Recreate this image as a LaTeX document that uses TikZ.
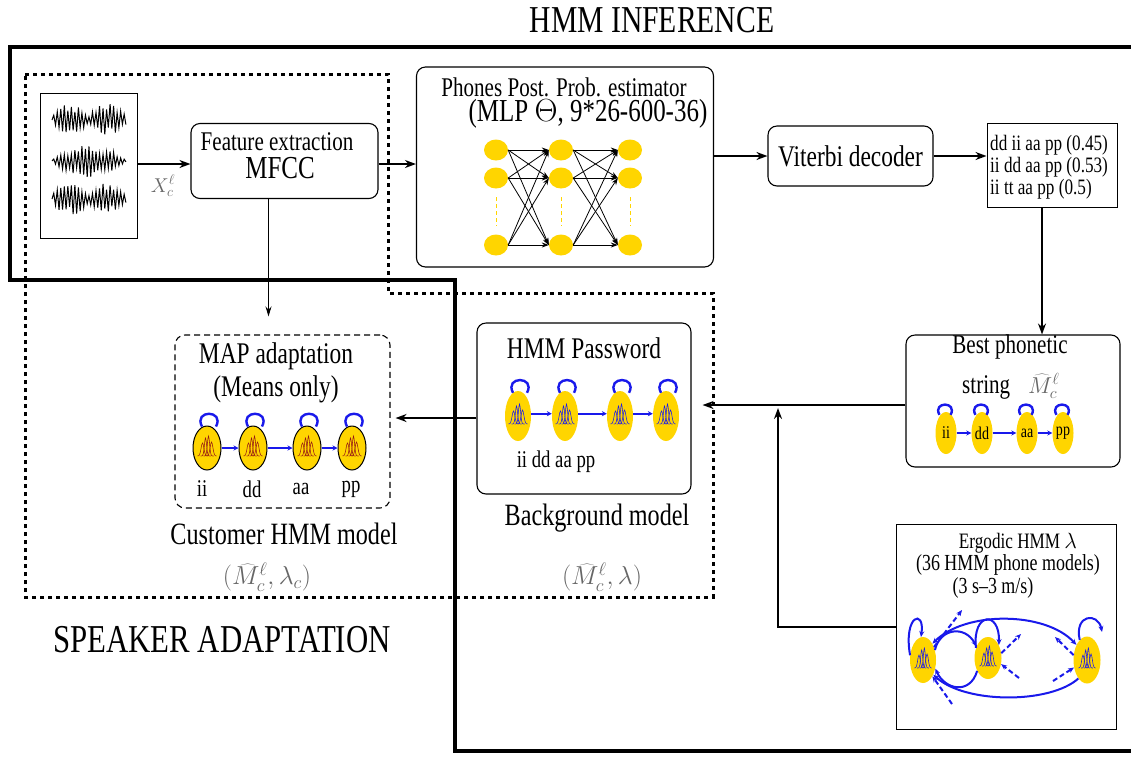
\RequirePackage{fix-cm}
\documentclass[tikz,border=0pt]{standalone}
\usepackage[no-math]{fontspec}
\setmainfont{Liberation Serif}[FakeStretch=0.78]
\usetikzlibrary{arrows.meta,calc,shapes.geometric}

\definecolor{hmmgold}{RGB}{255,213,0}
\definecolor{hmmblue}{RGB}{25,25,235}
\definecolor{peakred}{RGB}{150,25,20}
\definecolor{mathgray}{gray}{0.4}

\begin{document}
\begin{tikzpicture}[x=1pt,y=-1pt,
  txt/.style={inner sep=0pt, font=\fontsize{#1}{#1}\selectfont},
  txt/.default=24,
  rbox/.style={draw, rounded corners=9pt, line width=1.1pt, inner sep=0pt},
  sqbox/.style={draw, line width=1pt, inner sep=0pt},
  thickframe/.style={line width=4pt},
  dotframe/.style={line width=3pt, dash pattern=on 4pt off 4pt},
  flow/.style={line width=2pt, -{Stealth[length=11pt,width=8pt]}},
  thinflow/.style={line width=1pt, -{Stealth[length=10pt,width=6pt]}},
  nnarrow/.style={line width=0.8pt, -{Stealth[length=7pt,width=5pt]}},
  neuron/.style={ellipse, fill=hmmgold, minimum width=24pt, minimum height=21pt, inner sep=0pt},
  ydash/.style={hmmgold, line width=1pt, dash pattern=on 4pt off 3pt},
  state/.style={ellipse, fill=hmmgold, inner sep=0pt},
  chainarr/.style={hmmblue, line width=1.8pt, -{Stealth[length=5pt,width=5pt]}},
  loopline/.style={hmmblue, line width=2.4pt},
  ergarr/.style={hmmblue, line width=2pt, -{Stealth[length=6pt,width=5pt]}},
  ergdash/.style={ergarr, dash pattern=on 5pt off 3pt},
  wave/.style={line width=1pt, line join=miter},
  pics/peaks/.style={code={
    \foreach \m/\h/\s in {-4.5/13/1.4,-1.5/18/1.1,1.5/20/1.1,4.5/14/1.4}
      \draw[line width=0.55pt] plot[smooth,samples=15,domain=\m-5:\m+5]
        (\x,{8-\h*exp(-((\x-(\m))^2)/(2*\s*\s))});
  }},
  pics/selfloop/.style={code={
    \draw[loopline] (-7,0) .. controls (-16,-17) and (16,-17) .. (7,0);
  }}
]
\fill[white] (0,0) rectangle (1131,756);
\useasboundingbox (0,0) rectangle (1131,756);

% ---- headings ----
\node[txt=38] (title) at (652,20) {HMM INFERENCE};
\node[txt=39.5] (sptitle) at (222,640) {SPEAKER ADAPTATION};

% ---- enclosing frames ----
\draw[thickframe] (1140,47) -- (10,47) -- (10,280) -- (455,280) -- (455,751) -- (1140,751);
\draw[dotframe] (25,74) -- (388,74) -- (388,293) -- (713,293) -- (713,597) -- (25,597) -- cycle;

% ---- speech signal ----
\node[sqbox, minimum width=97pt, minimum height=145pt] (wav) at (88.5,165.5) {};
\foreach \yc/\sd/\kind in {120/11/1,161/23/2,199/37/1}{
  \pgfmathsetseed{\sd}
  \draw[wave] (52,\yc) \foreach \i in {1,...,42}{
    -- ({52+\i*1.76},{\yc+pow(-1,\i)*((\kind==1) ? (1.5+15*(0.4+0.6*rnd)*(0.25+0.75*abs(sin(\i*8.6)))) : (1+16*(0.4+0.6*rnd)*sin(\i*4.3)))}) };
}

% ---- feature extraction ----
\node[rbox, minimum width=187pt, minimum height=75pt] (fe) at (284.5,161) {};
\node[txt=27] (fe1) at (277,142) {Feature extraction};
\node[txt=32] (fe2) at (280,168) {MFCC};
\draw[flow] (wav.east |- 0,164) -- (fe.west |- 0,164);
\node[txt=20, text=mathgray] (xlab) at (163,186) {$X_c^\ell$};

% ---- MLP estimator ----
\node[rbox, minimum width=297pt, minimum height=200pt] (ph) at (565,167) {};
\node[txt=27] (ph1) at (564,87) {Phones Post. Prob. estimator};
\node[txt=32] (ph2) at (588,114) {(MLP $\Theta$, 9*26-600-36)};
\foreach \c/\x in {1/496,2/561,3/630}
  \foreach \r/\y in {1/150,2/178,3/245}
    \node[neuron] (n\c\r) at (\x,\y) {};
\foreach \c in {1,2,3}
  \draw[ydash, shorten <=19pt, shorten >=19pt] (n\c2.center) -- (n\c3.center);
\foreach \a in {1,2,3}
  \foreach \b in {1,2,3}{
    \draw[nnarrow] (n1\a.east) -- (n2\b.west);
    \draw[nnarrow] (n2\a.east) -- (n3\b.west);
  }
\draw[flow] (fe.east |- 0,164) -- (ph.west |- 0,164);

% ---- Viterbi decoding ----
\node[rbox, minimum width=165pt, minimum height=60pt, txt=30] (vit) at (850.5,156) {Viterbi decoder};
\draw[flow] (ph.east |- vit) -- (vit.west);
\node[sqbox, minimum width=130pt, minimum height=84pt] (lst) at (1052,165) {};
\node[txt=22, anchor=west] (l1) at (990,145) {dd ii aa pp (0.45)};
\node[txt=22, anchor=west] (l2) at (990,167) {ii dd aa pp (0.53)};
\node[txt=22, anchor=west] (l3) at (990,189) {ii tt aa pp (0.5)};
\draw[flow] (vit.east) -- (vit.east -| lst.west);

% ---- best phonetic string ----
\node[rbox, minimum width=214pt, minimum height=132pt] (best) at (1013,401) {};
\node[txt=27] (b1) at (1010,347) {Best phonetic};
\node[txt=27, anchor=base west] (b2) at (962,393) {string\hspace{18pt}{\fontsize{23}{23}\selectfont\textcolor{mathgray}{$\widehat{M}_c^\ell$}}};
\foreach \k/\x/\t in {1/946/ii,2/982/dd,3/1027/aa,4/1063/pp}{
  \node[state, minimum width=21pt, minimum height=42pt, txt=18] (s\k) at (\x,433) {\t};
  \pic[scale=0.8] at ($(s\k.north)+(-1,3)$) {selfloop};
}
\foreach \a/\b in {1/2,2/3,3/4}
  \draw[chainarr] (s\a.east) -- (s\b.west);
\coordinate (lstfoot) at ($(lst.south)+(-10,0)$);
\draw[flow, line width=1.5pt] (lstfoot) -- (lstfoot |- best.north);

% ---- HMM password (background model) ----
\node[rbox, minimum width=214pt, minimum height=171pt] (pw) at (584,408.5) {};
\node[txt=30] (pw1) at (584,348) {HMM Password};
\foreach \k/\x in {1/518,2/565,3/620,4/666}{
  \node[state, minimum width=26pt, minimum height=50pt] (p\k) at (\x,416) {};
  \pic[hmmblue] at (p\k) {peaks};
  \pic at ($(p\k.north)+(2,2)$) {selfloop};
}
\foreach \a/\b in {1/2,2/3,3/4}
  \draw[chainarr] (p\a.10) -- (p\b.170);
\node[txt=24] (pwlab) at (556,462) {ii dd aa pp};
\node[txt=31] (bgm) at (597,518) {Background model};
\node[txt=26, text=mathgray] (bgmath) at (602,577) {$(\widehat{M}_c^\ell,\lambda)$};
\draw[flow, shorten >=11pt] (best.west |- 0,405) -- (pw.east |- 0,405);

% ---- MAP adaptation (customer model) ----
\node[draw, dash pattern=on 6pt off 4pt, rounded corners=10pt, line width=1.1pt,
      minimum width=215pt, minimum height=173pt] (map) at (282.5,421.5) {};
\node[txt=30] (map1) at (276,356) {MAP adaptation};
\node[txt=30] (map2) at (276,389) {(Means only)};
\foreach \k/\x/\t/\lx in {1/207/ii/202,2/253/dd/252,3/307/aa/301,4/352/pp/351}{
  \node[state, draw=black, line width=1pt, minimum width=28pt, minimum height=44pt] (m\k) at (\x,448) {};
  \pic[peakred] at (m\k) {peaks};
  \pic at ($(m\k.north)+(2,1)$) {selfloop};
  \node[txt=24] (ml\k) at (\lx,489) {\t};
}
\foreach \a/\b in {1/2,2/3,3/4}
  \draw[chainarr] (m\a.east) -- (m\b.west);
\node[txt=31] (cust) at (284,534) {Customer HMM model};
\node[txt=26, text=mathgray] (custmath) at (267,577) {$(\widehat{M}_c^\ell,\lambda_c)$};
\coordinate (fefoot) at ($(fe.south)+(-16,0)$);
\draw[thinflow, shorten >=18pt] (fefoot) -- (fefoot |- map.north);
\draw[flow, shorten >=5pt] (pw.west |- 0,418) -- (map.east |- 0,418);

% ---- ergodic HMM ----
\node[sqbox, minimum width=220pt, minimum height=205pt] (erg) at (1006.5,626.5) {};
\node[txt=22] (erg1) at (1018,543) {Ergodic HMM $\lambda$};
\node[txt=23] (erg2) at (1008,565) {(36 HMM phone models)};
\node[txt=23] (erg3) at (993,588) {(3 s--3 m/s)};
\node[state, minimum width=26pt, minimum height=46pt] (e1) at (923,660) {};
\node[state, minimum width=27pt, minimum height=42pt] (e2) at (988,658) {};
\node[state, minimum width=27pt, minimum height=47pt] (e3) at (1087,660) {};
\foreach \k in {1,2,3} \pic[hmmblue, xscale=0.9] at (e\k) {peaks};
\draw[ergarr, {Stealth[length=6pt,width=5pt]}-{Stealth[length=6pt,width=5pt]}]
  (e1.60) .. controls (965,611) and (1045,611) .. (e3.125);
\draw[ergarr] (e3.245) .. controls (1050,704) and (965,704) .. (e1.-55);
\draw[ergarr] (e1.40) .. controls (940,628) and (965,625) .. (e2.135);
\draw[ergarr] (e2.230) .. controls (970,695) and (945,690) .. (e1.-35);
\draw[ergarr] (e1.160) .. controls (903,615) and (925,608) .. (e1.95);
\draw[ergarr] (e2.140) .. controls (972,612) and (1000,610) .. (e2.50);
\coordinate (e3loop) at (1102,632);
\draw[ergarr] (e3.110) .. controls (1074,614) and (1098,612) .. (e3loop);
\coordinate (d1) at (962,610);
\coordinate (d2) at (952,704);
\coordinate (d3) at (1021,634);
\coordinate (d4) at (1019,678);
\coordinate (d5) at (1055,637);
\coordinate (d6) at (1053,681);
\draw[ergdash] (e1.50) -- (d1);
\draw[ergdash] (d2) -- (e1.-60);
\draw[ergdash] (e2.20) -- (d3);
\draw[ergdash] (d4) -- (e2.-25);
\draw[ergdash] (e3.160) -- (d5);
\draw[ergdash] (d6) -- (e3.-150);
\coordinate (joint) at (778,627);
\draw[flow, shorten >=3pt] (erg.west |- joint) -- (joint) -- (joint |- 0,405);
\end{tikzpicture}
\end{document}
